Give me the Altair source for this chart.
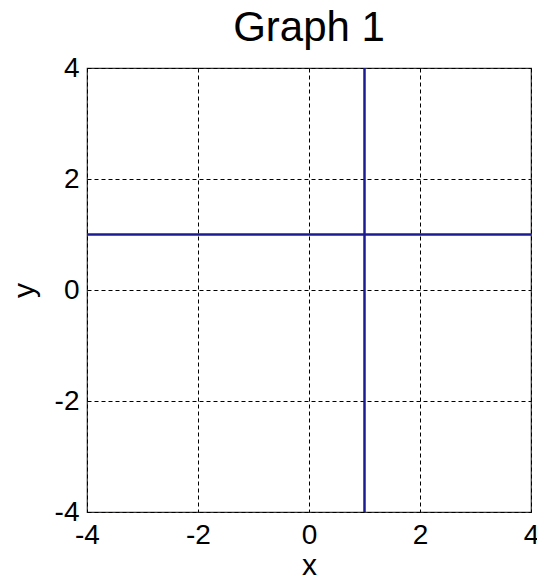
import altair as alt
import pandas as pd

# Axis ticks and limits
x_ticks = [-4, -2, 0, 2, 4]
y_ticks = [-4, -2, 0, 2, 4]
x_limits = [-4, 4]
y_limits = [-4, 4]

# The two lines drawn: x = 1 (vertical) and y = 1 (horizontal)
vertical_x = [1]
horizontal_y = [1]

LINE_COLOR = "#1c1c90"
FONT = "Liberation Sans"
# plain integers with an ASCII hyphen for negatives
LABEL_EXPR = "'' + datum.value"

vline_df = pd.DataFrame({"x": vertical_x, "y0": [y_limits[0]], "y1": [y_limits[1]]})
hline_df = pd.DataFrame({"y": horizontal_y, "x0": [x_limits[0]], "x1": [x_limits[1]]})

x_scale = alt.Scale(domain=x_limits, nice=False, zero=False)
y_scale = alt.Scale(domain=y_limits, nice=False, zero=False)

x_axis = alt.Axis(
    values=x_ticks, title="x", grid=True, ticks=False, domain=False,
    labelExpr=LABEL_EXPR,
    labelFontSize=28, labelPadding=9, titleFontSize=30, titleFontWeight="normal",
    titlePadding=1, labelFlush=False,
)
y_axis = alt.Axis(
    values=y_ticks, title="y", grid=True, ticks=False, domain=False,
    labelExpr=LABEL_EXPR,
    labelFontSize=28, labelPadding=8, titleFontSize=30, titleFontWeight="normal",
    titlePadding=15, labelFlush=False,
)

vline = alt.Chart(vline_df).mark_rule(color=LINE_COLOR, strokeWidth=2.5).encode(
    x=alt.X("x:Q", scale=x_scale, axis=x_axis),
    y=alt.Y("y0:Q", scale=y_scale, axis=y_axis),
    y2="y1:Q",
)

hline = alt.Chart(hline_df).mark_rule(color=LINE_COLOR, strokeWidth=2.5).encode(
    y=alt.Y("y:Q", scale=y_scale),
    x=alt.X("x0:Q", scale=x_scale),
    x2="x1:Q",
)

chart = (
    alt.layer(vline, hline)
    .properties(
        width=444,
        height=444,
        title=alt.TitleParams(
            "Graph 1", fontSize=42, fontWeight="normal", font=FONT,
            color="black", anchor="middle", frame="group", offset=4,
        ),
        autosize=alt.AutoSizeParams(type="none"),
        padding={"left": 87, "top": 68, "right": 6, "bottom": 72},
        background="white",
    )
    .configure_view(stroke="#333333", strokeWidth=1.2)
    .configure_axis(
        gridColor="black", gridOpacity=1, gridDash=[4, 3], gridWidth=1,
        labelFont=FONT, titleFont=FONT, labelColor="black", titleColor="black",
    )
)

chart.save("out.html", embed_options={"renderer": "svg", "actions": False})
